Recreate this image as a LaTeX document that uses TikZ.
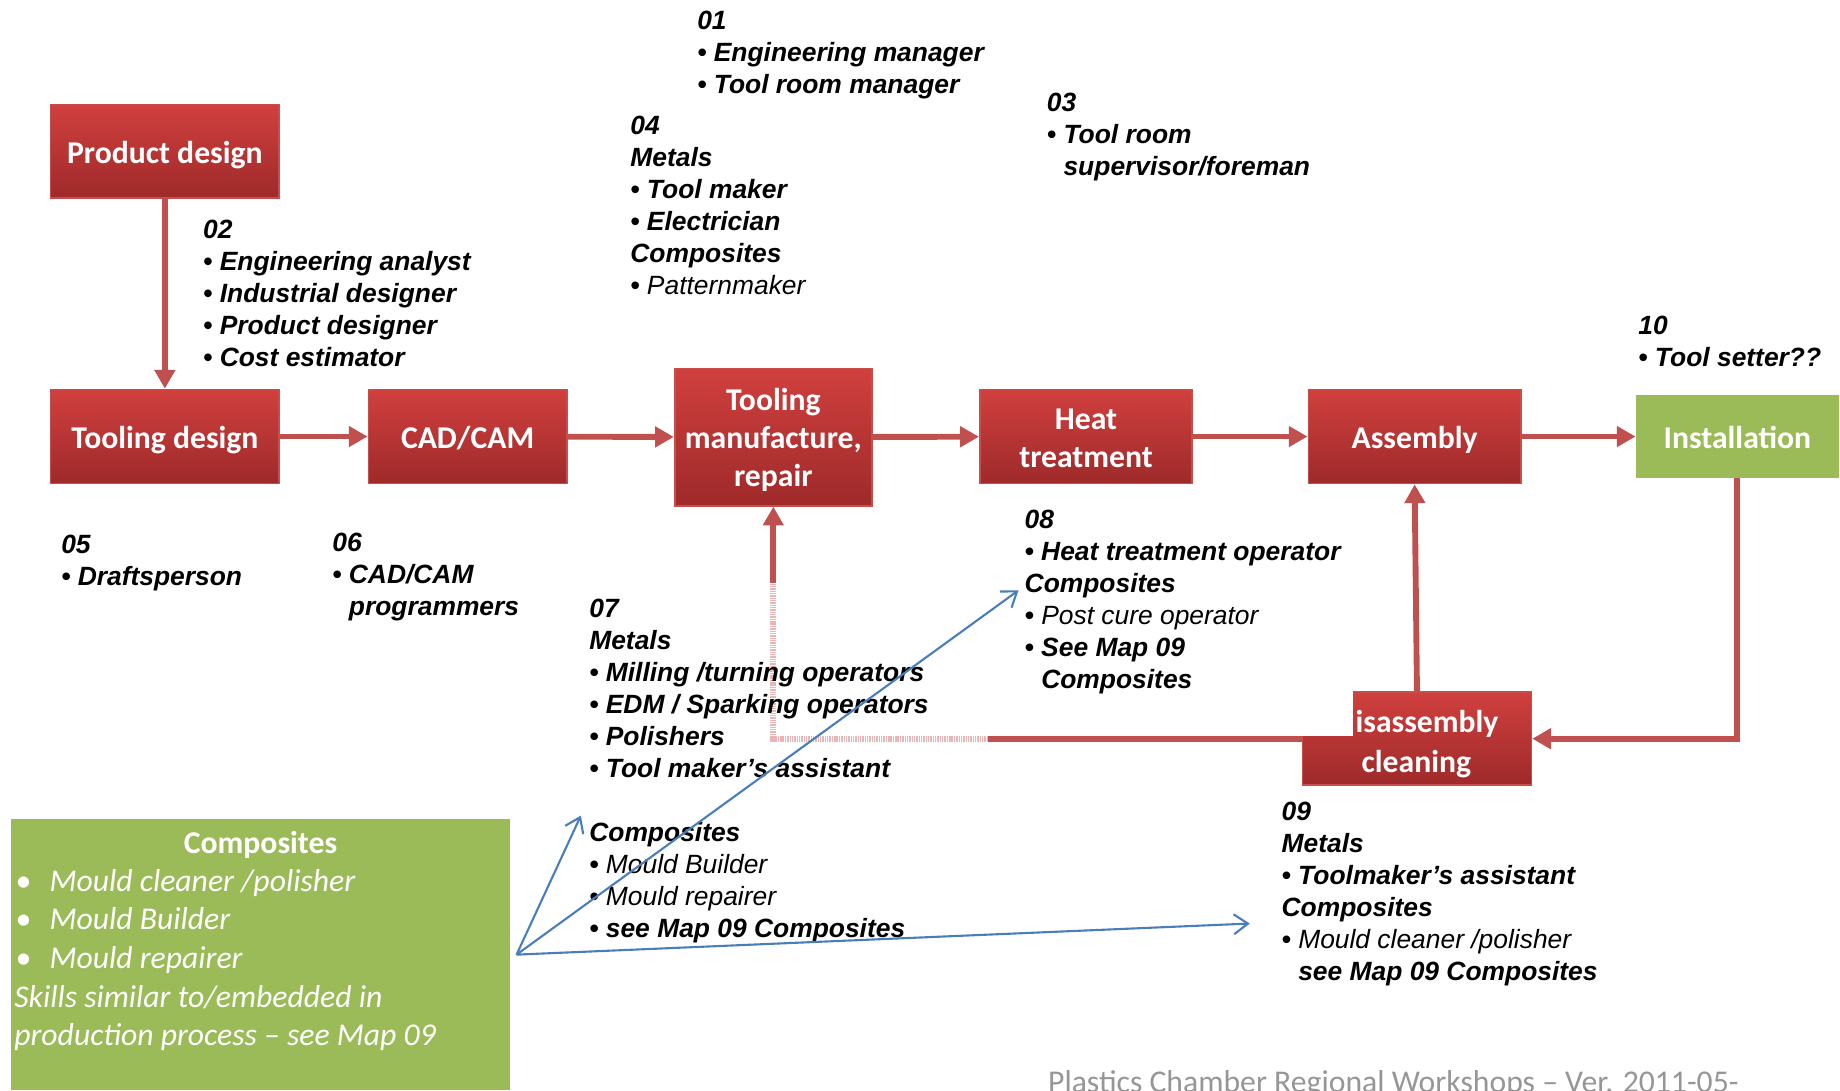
\documentclass[tikz,border=0pt]{standalone}
\usepackage{fontspec}
\setmainfont{Liberation Sans}
\newfontfamily\boxfont{Carlito}
\usetikzlibrary{arrows.meta}

\definecolor{boxtop}{RGB}{208,64,62}
\definecolor{boxbot}{RGB}{158,42,42}
\definecolor{boxline}{RGB}{200,78,75}
\definecolor{flowred}{RGB}{192,80,77}
\definecolor{faintred}{RGB}{236,180,180}
\definecolor{leafgreen}{RGB}{155,187,89}
\definecolor{linkblue}{RGB}{74,126,187}
\definecolor{footgray}{RGB}{150,150,150}

\newcommand{\bul}{\textbullet\ }
\newcommand{\ind}{\hphantom{\textbullet\ }}

\tikzset{
  boxtext/.style={text=white, align=center, inner sep=0pt, font=\boxfont\bfseries\fontsize{27}{32.5}\selectfont,
    execute at begin node={\rule{0pt}{26pt}}, execute at end node={\rule[-6pt]{0pt}{0pt}}},
  stagebox/.style={boxtext, draw=boxline, line width=1.5pt, top color=boxtop, bottom color=boxbot},
  roles/.style={anchor=north west, yshift=15.6pt, align=left, inner sep=0pt,
    execute at begin node=\strut, font=\bfseries\itshape\fontsize{22.5}{27.3}\selectfont},
  flow/.style={draw=flowred, line width=5pt, -{Triangle[width=17pt,length=16pt]}},
  flowline/.style={draw=flowred, line width=5pt},
  faintline/.style={draw=faintred, line width=5pt, dash pattern=on 1.2pt off 0.8pt},
  link/.style={draw=linkblue, line width=1.8pt, -{Straight Barb[length=12pt,width=17pt]}}
}

\begin{document}
\begin{tikzpicture}[x=1pt,y=-1pt]
	\useasboundingbox (0,0) rectangle (1568,929);

	% The process stages
	\node (prod) at (140.5,129) [stagebox, minimum width=195pt, minimum height=80pt] {Product design};
	\node (tooldes) at (140.5,372) [stagebox, minimum width=195pt, minimum height=80pt] {Tooling design};
	\node (cadcam) at (398.5,372) [stagebox, minimum width=169pt, minimum height=80pt] {CAD/CAM};
	\node (manuf) at (659,372.5) [stagebox, text height=91pt, minimum width=168pt, minimum height=117pt] {Tooling\\manufacture,\\repair};
	\node (heat) at (925.5,372) [stagebox, text height=59pt, minimum width=181pt, minimum height=80pt] {Heat\\treatment};
	\node (assy) at (1205.5,372) [stagebox, minimum width=181pt, minimum height=80pt] {Assembly};
	\node (inst) at (1480.5,372) [boxtext, fill=leafgreen, minimum width=173pt, minimum height=70pt] {Installation};

	% Disassembly box, its top left corner hidden
	\node (disasm) at (1207.5,629.5) [stagebox, minimum width=195pt, minimum height=79pt] {};
	\fill[white] (1107,587) rectangle (1153,627);
	\node (disasmtop) at (1155,624) [anchor=base west, inner sep=0pt, text=white,
		font=\boxfont\bfseries\fontsize{27}{32.5}\selectfont] {isassembly};
	\node (disasmbot) at (1207,658) [anchor=base, inner sep=0pt, text=white,
		font=\boxfont\bfseries\fontsize{27}{32.5}\selectfont] {cleaning};

	% Flow between the stages
	\draw [flow] (prod) -- (tooldes);
	\draw [flow] (tooldes) -- (cadcam);
	\draw [flow] (cadcam) -- (manuf);
	\draw [flow] (manuf) -- (heat);
	\draw [flow] (heat) -- (assy);
	\draw [flow] (assy) -- (inst);
	\draw [flow] (inst.south) |- (disasm.east);
	\draw [flow] (disasm.north) -- (assy.south);

	% Return path to tooling manufacture
	\coordinate (bendA) at (842,629.5);
	\coordinate (corner) at (manuf.south |- disasm.west);
	\coordinate (bendB) at (659,497);
	\draw [flowline] (disasm.west) -- (bendA);
	\draw [faintline] (bendA) -- (corner) -- (bendB);
	\draw [flow] (bendB) -- (manuf.south);

	% The occupations at each stage
	\node (roles01) at (594,25) [roles] {01\\\bul Engineering manager\\\bul Tool room manager};
	\node (roles04) at (537,114) [roles] {04\\Metals\\\bul Tool maker\\\bul Electrician\\Composites\\\bul {\mdseries Patternmaker}};
	\node (roles03) at (892,95) [roles] {03\\\bul Tool room\\\ind supervisor/foreman};
	\node (roles02) at (173,203) [roles] {02\\\bul Engineering analyst\\\bul Industrial designer\\\bul Product designer\\\bul Cost estimator};
	\node (roles10) at (1396,285) [roles] {10\\\bul Tool setter??};
	\node (roles05) at (52,471) [roles] {05\\\bul Draftsperson};
	\node (roles06) at (283,470) [roles] {06\\\bul CAD/CAM\\\ind programmers};
	\node (roles07) at (502,526) [roles] {07\\Metals\\\bul Milling /turning operators\\\bul EDM / Sparking operators\\\bul Polishers\\\bul Tool maker’s assistant\\[27.3pt]
		Composites\\\bul {\mdseries Mould Builder}\\\bul {\mdseries Mould repairer}\\\bul see Map 09 Composites};
	\node (roles08) at (873,450) [roles] {08\\\bul Heat treatment operator\\Composites\\\bul {\mdseries Post cure operator}\\\bul See Map 09\\\ind Composites};
	\node (roles09) at (1092,699) [roles] {09\\Metals\\\bul Toolmaker’s assistant\\Composites\\\bul {\mdseries Mould cleaner /polisher}\\\ind see Map 09 Composites};

	% Composites box and its links
	\node (compbox) at (222,813.5) [fill=leafgreen, inner sep=0pt, minimum width=426pt, minimum height=231pt] {};
	\node (comphead) at (222,727) [anchor=base, inner sep=0pt, text=white,
		font=\boxfont\bfseries\fontsize{27}{33}\selectfont] {Composites};
	\node (complist) at (12,763.5) [anchor=north west, yshift=23.1pt, align=left, inner sep=0pt, text=white,
		execute at begin node=\strut, font=\boxfont\itshape\fontsize{27}{33}\selectfont]
		{\hspace*{1pt}\makebox[29pt][l]{\textbullet}Mould cleaner /polisher\\
		\hspace*{1pt}\makebox[29pt][l]{\textbullet}Mould Builder\\
		\hspace*{1pt}\makebox[29pt][l]{\textbullet}Mould repairer\\
		Skills similar to/embedded in\\production process – see Map 09};
	\coordinate (fork) at ([xshift=5pt]compbox.east);
	\coordinate (to07) at (495,695);
	\coordinate (to08) at (868,503);
	\coordinate (to09) at (1065,787);
	\draw [link] (fork) -- (to07);
	\draw [link] (fork) -- (to08);
	\draw [link] (fork) -- (to09);

	% Footer
	\node (footer) at (893,931) [anchor=base west, inner sep=0pt, text=footgray,
		font=\boxfont\fontsize{27}{33}\selectfont] {Plastics Chamber Regional Workshops – Ver. 2011-05-};
\end{tikzpicture}
\end{document}
